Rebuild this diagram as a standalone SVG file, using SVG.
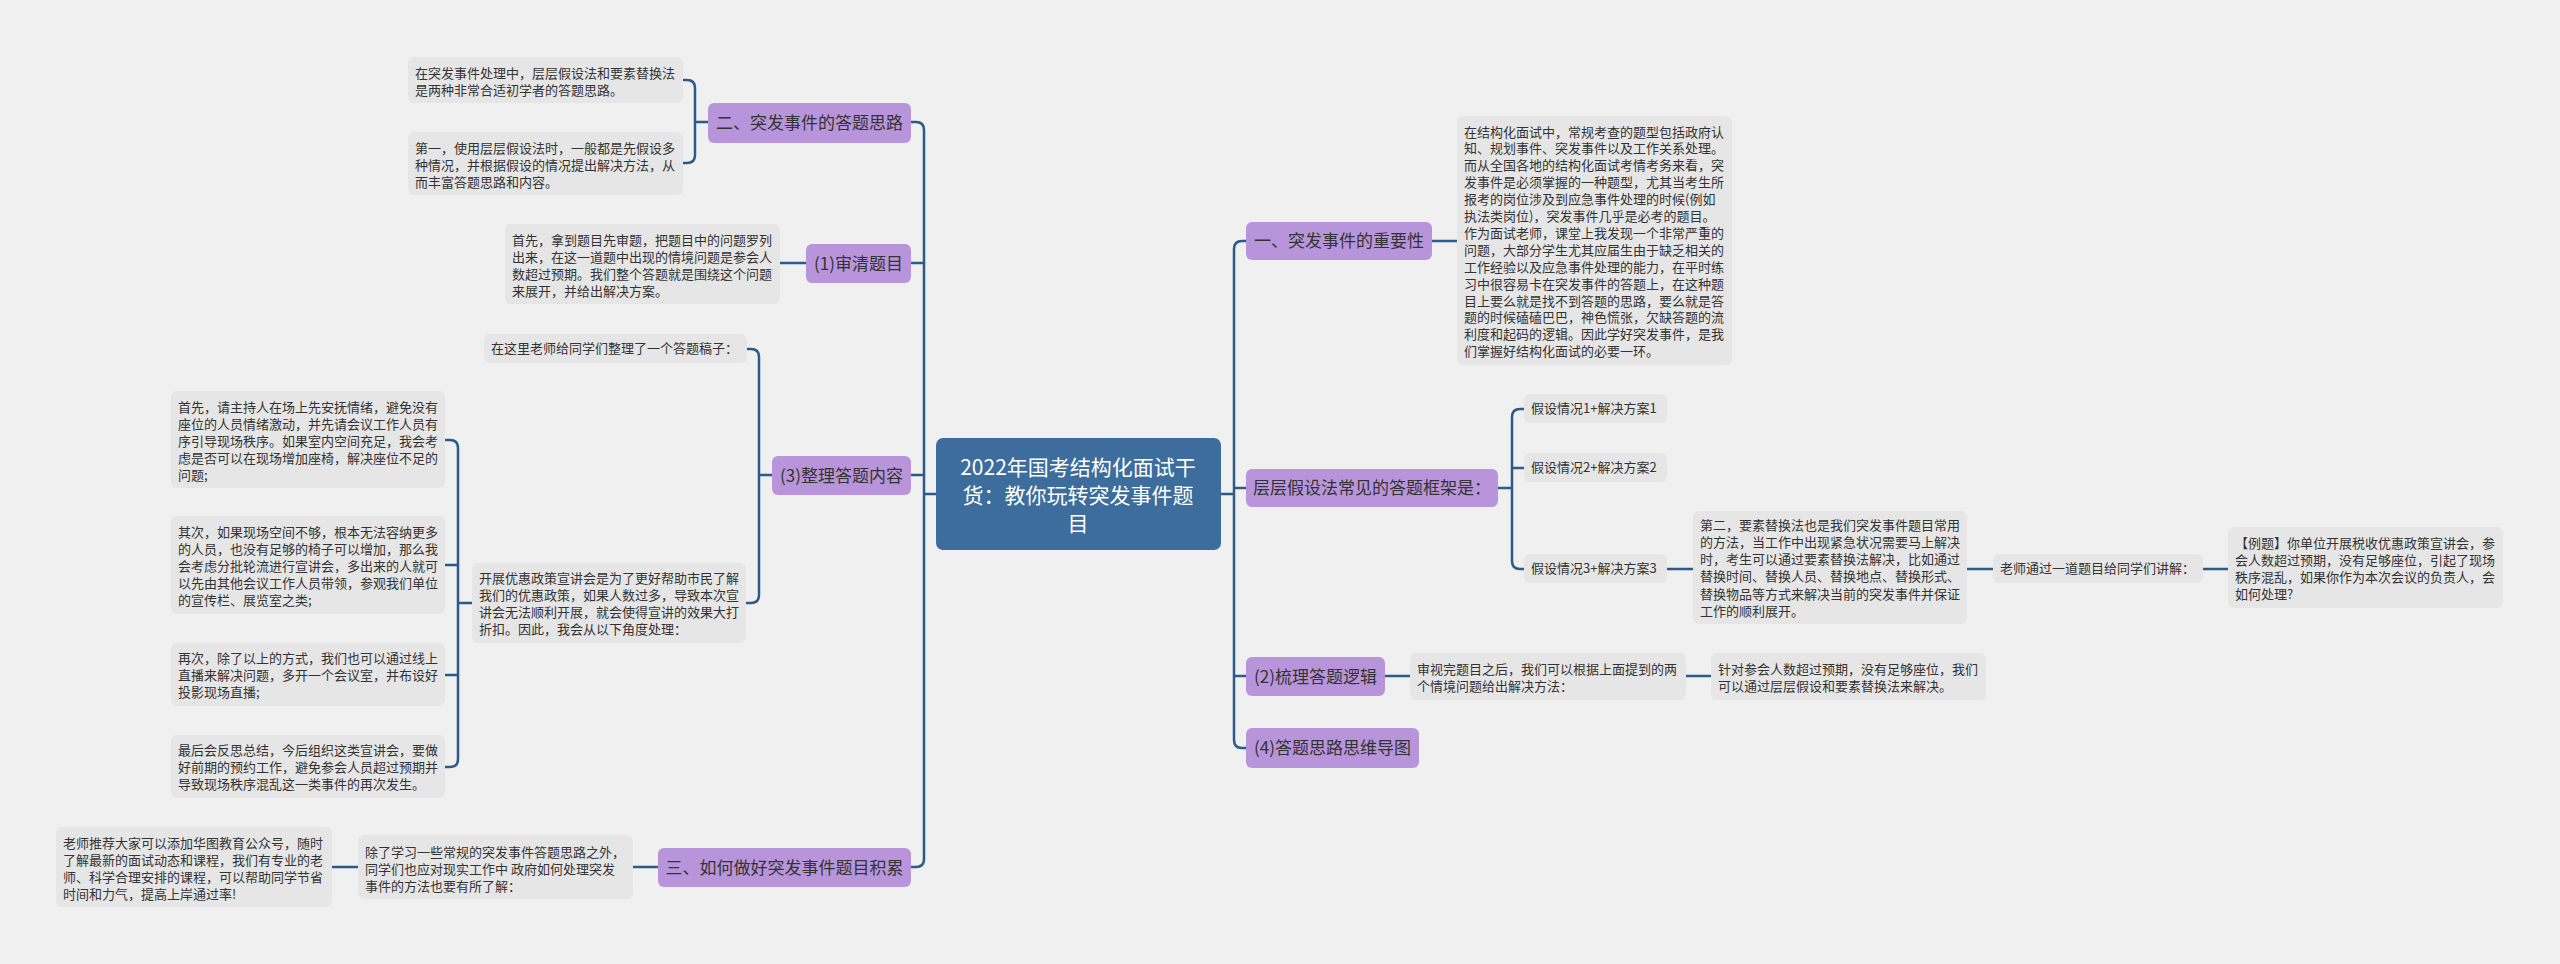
<svg xmlns="http://www.w3.org/2000/svg" width="2560" height="964" viewBox="0 0 2560 964">
<style>
.bg{fill:#f0f0f0}
.leaf{fill:#e6e6e6}
.node{fill:#b895da}
.center{fill:#3c6d9c}
.lt{font-family:"Noto Sans CJK SC","Noto Sans",sans-serif;font-size:13px;fill:#333}
.nt{font-family:"Noto Sans CJK SC","Noto Sans",sans-serif;font-size:17px;fill:#333;text-anchor:middle}
.ct{font-family:"Noto Sans CJK SC","Noto Sans",sans-serif;font-size:21px;fill:#fff;text-anchor:middle}
.conn{stroke:#2a5b8a;stroke-width:2.5;fill:none}
</style>
<rect class="bg" x="0" y="0" width="2560" height="964"/>
<g id="connectors">
<path class="conn" d="M911,122 H916 Q924,122 924,130 V859 Q924,867 916,867 H911 M911,263 H924 M911,475 H924 M924,494 H936"/>
<path class="conn" d="M1246,241 H1242 Q1234,241 1234,249 V740 Q1234,748 1242,748 H1246 M1234,488 H1246 M1234,676 H1246 M1221,494 H1234"/>
<path class="conn" d="M683,80 H687 Q695,80 695,88 V155 Q695,163 687,163 H683 M695,122 H708"/>
<path class="conn" d="M780,263 H806"/>
<path class="conn" d="M747,349 H751 Q759,349 759,357 V595 Q759,603 751,603 H746 M759,475 H772"/>
<path class="conn" d="M445,440 H450 Q458,440 458,448 V759 Q458,767 450,767 H445 M445,565 H458 M445,675 H458 M458,603 H472"/>
<path class="conn" d="M332,867 H358 M633,867 H658"/>
<path class="conn" d="M1432,241 H1457"/>
<path class="conn" d="M1524,409 H1520 Q1512,409 1512,417 V561 Q1512,569 1520,569 H1524 M1512,468 H1524 M1498,488 H1512"/>
<path class="conn" d="M1667,569 H1693 M1967,569 H1993 M2203,569 H2228"/>
<path class="conn" d="M1385,676 H1410 M1686,676 H1711"/>
</g>
<g id="center">
<rect class="center" x="936" y="438" width="285" height="112" rx="7"/>
<text class="ct" x="1078" y="475">2022年国考结构化面试干</text>
<text class="ct" x="1078" y="503">货：教你玩转突发事件题</text>
<text class="ct" x="1078" y="531">目</text>
</g>
<g id="n2">
<rect class="node" x="708" y="103" width="203" height="40" rx="6"/>
<text class="nt" x="809.5" y="129">二、突发事件的答题思路</text>
</g>
<g id="n2a">
<rect class="leaf" x="408" y="57" width="275" height="46" rx="6"/>
<text class="lt" x="415" y="77.5">在突发事件处理中，层层假设法和要素替换法</text>
<text class="lt" x="415" y="94.5">是两种非常合适初学者的答题思路。</text>
</g>
<g id="n2b">
<rect class="leaf" x="408" y="132" width="275" height="63" rx="6"/>
<text class="lt" x="415" y="152.5">第一，使用层层假设法时，一般都是先假设多</text>
<text class="lt" x="415" y="169.5">种情况，并根据假设的情况提出解决方法，从</text>
<text class="lt" x="415" y="186.5">而丰富答题思路和内容。</text>
</g>
<g id="n1s">
<rect class="node" x="806" y="244" width="105" height="39" rx="6"/>
<text class="nt" x="858.5" y="269.5">(1)审清题目</text>
</g>
<g id="n1sa">
<rect class="leaf" x="505" y="224" width="275" height="80" rx="6"/>
<text class="lt" x="512" y="244.5">首先，拿到题目先审题，把题目中的问题罗列</text>
<text class="lt" x="512" y="261.5">出来，在这一道题中出现的情境问题是参会人</text>
<text class="lt" x="512" y="278.5">数超过预期。我们整个答题就是围绕这个问题</text>
<text class="lt" x="512" y="295.5">来展开，并给出解决方案。</text>
</g>
<g id="n3s">
<rect class="node" x="772" y="456" width="139" height="39" rx="6"/>
<text class="nt" x="841.5" y="481.5">(3)整理答题内容</text>
</g>
<g id="n3sa">
<rect class="leaf" x="484" y="334" width="263" height="29" rx="6"/>
<text class="lt" x="491" y="353">在这里老师给同学们整理了一个答题稿子：</text>
</g>
<g id="n3sb">
<rect class="leaf" x="472" y="563" width="274" height="80" rx="6"/>
<text class="lt" x="479" y="582.5">开展优惠政策宣讲会是为了更好帮助市民了解</text>
<text class="lt" x="479" y="599.5">我们的优惠政策，如果人数过多，导致本次宣</text>
<text class="lt" x="479" y="616.5">讲会无法顺利开展，就会使得宣讲的效果大打</text>
<text class="lt" x="479" y="633.5">折扣。因此，我会从以下角度处理：</text>
</g>
<g id="n3sb1">
<rect class="leaf" x="171" y="391" width="274" height="97" rx="6"/>
<text class="lt" x="178" y="411.5">首先，请主持人在场上先安抚情绪，避免没有</text>
<text class="lt" x="178" y="428.5">座位的人员情绪激动，并先请会议工作人员有</text>
<text class="lt" x="178" y="445.5">序引导现场秩序。如果室内空间充足，我会考</text>
<text class="lt" x="178" y="462.5">虑是否可以在现场增加座椅，解决座位不足的</text>
<text class="lt" x="178" y="479.5">问题;</text>
</g>
<g id="n3sb2">
<rect class="leaf" x="171" y="516" width="274" height="98" rx="6"/>
<text class="lt" x="178" y="536.5">其次，如果现场空间不够，根本无法容纳更多</text>
<text class="lt" x="178" y="553.5">的人员，也没有足够的椅子可以增加，那么我</text>
<text class="lt" x="178" y="570.5">会考虑分批轮流进行宣讲会，多出来的人就可</text>
<text class="lt" x="178" y="587.5">以先由其他会议工作人员带领，参观我们单位</text>
<text class="lt" x="178" y="604.5">的宣传栏、展览室之类;</text>
</g>
<g id="n3sb3">
<rect class="leaf" x="171" y="643" width="274" height="63" rx="6"/>
<text class="lt" x="178" y="662.5">再次，除了以上的方式，我们也可以通过线上</text>
<text class="lt" x="178" y="679.5">直播来解决问题，多开一个会议室，并布设好</text>
<text class="lt" x="178" y="696.5">投影现场直播;</text>
</g>
<g id="n3sb4">
<rect class="leaf" x="171" y="735" width="274" height="63" rx="6"/>
<text class="lt" x="178" y="754.5">最后会反思总结，今后组织这类宣讲会，要做</text>
<text class="lt" x="178" y="771.5">好前期的预约工作，避免参会人员超过预期并</text>
<text class="lt" x="178" y="788.5">导致现场秩序混乱这一类事件的再次发生。</text>
</g>
<g id="n3">
<rect class="node" x="658" y="848" width="253" height="39" rx="6"/>
<text class="nt" x="784.5" y="873.5">三、如何做好突发事件题目积累</text>
</g>
<g id="n3a">
<rect class="leaf" x="358" y="835" width="275" height="64" rx="6"/>
<text class="lt" x="365" y="856.5">除了学习一些常规的突发事件答题思路之外，</text>
<text class="lt" x="365" y="873.5">同学们也应对现实工作中 政府如何处理突发</text>
<text class="lt" x="365" y="890.5">事件的方法也要有所了解：</text>
</g>
<g id="n3b">
<rect class="leaf" x="56" y="827" width="276" height="80" rx="6"/>
<text class="lt" x="63" y="847.5">老师推荐大家可以添加华图教育公众号，随时</text>
<text class="lt" x="63" y="864.5">了解最新的面试动态和课程，我们有专业的老</text>
<text class="lt" x="63" y="881.5">师、科学合理安排的课程，可以帮助同学节省</text>
<text class="lt" x="63" y="898.5">时间和力气，提高上岸通过率!</text>
</g>
<g id="n1">
<rect class="node" x="1246" y="222" width="186" height="38" rx="6"/>
<text class="nt" x="1339" y="247">一、突发事件的重要性</text>
</g>
<g id="n1a">
<rect class="leaf" x="1457" y="116" width="275" height="249" rx="6"/>
<text class="lt" x="1464" y="136.5">在结构化面试中，常规考查的题型包括政府认</text>
<text class="lt" x="1464" y="153.4">知、规划事件、突发事件以及工作关系处理。</text>
<text class="lt" x="1464" y="170.3">而从全国各地的结构化面试考情考务来看，突</text>
<text class="lt" x="1464" y="187.2">发事件是必须掌握的一种题型，尤其当考生所</text>
<text class="lt" x="1464" y="204.1">报考的岗位涉及到应急事件处理的时候(例如</text>
<text class="lt" x="1464" y="221">执法类岗位)，突发事件几乎是必考的题目。</text>
<text class="lt" x="1464" y="237.9">作为面试老师，课堂上我发现一个非常严重的</text>
<text class="lt" x="1464" y="254.8">问题，大部分学生尤其应届生由于缺乏相关的</text>
<text class="lt" x="1464" y="271.7">工作经验以及应急事件处理的能力，在平时练</text>
<text class="lt" x="1464" y="288.6">习中很容易卡在突发事件的答题上，在这种题</text>
<text class="lt" x="1464" y="305.5">目上要么就是找不到答题的思路，要么就是答</text>
<text class="lt" x="1464" y="322.4">题的时候磕磕巴巴，神色慌张，欠缺答题的流</text>
<text class="lt" x="1464" y="339.3">利度和起码的逻辑。因此学好突发事件，是我</text>
<text class="lt" x="1464" y="356.2">们掌握好结构化面试的必要一环。</text>
</g>
<g id="nf">
<rect class="node" x="1246" y="469" width="252" height="38" rx="6"/>
<text class="nt" x="1372" y="494">层层假设法常见的答题框架是：</text>
</g>
<g id="nf1">
<rect class="leaf" x="1524" y="394" width="143" height="29" rx="6"/>
<text class="lt" x="1531" y="413">假设情况1+解决方案1</text>
</g>
<g id="nf2">
<rect class="leaf" x="1524" y="453" width="143" height="29" rx="6"/>
<text class="lt" x="1531" y="472">假设情况2+解决方案2</text>
</g>
<g id="nf3">
<rect class="leaf" x="1524" y="554" width="143" height="29" rx="6"/>
<text class="lt" x="1531" y="573">假设情况3+解决方案3</text>
</g>
<g id="nf3a">
<rect class="leaf" x="1693" y="511" width="274" height="113" rx="6"/>
<text class="lt" x="1700" y="529.5">第二，要素替换法也是我们突发事件题目常用</text>
<text class="lt" x="1700" y="546.8">的方法，当工作中出现紧急状况需要马上解决</text>
<text class="lt" x="1700" y="564.1">时，考生可以通过要素替换法解决，比如通过</text>
<text class="lt" x="1700" y="581.4">替换时间、替换人员、替换地点、替换形式、</text>
<text class="lt" x="1700" y="598.7">替换物品等方式来解决当前的突发事件并保证</text>
<text class="lt" x="1700" y="616">工作的顺利展开。</text>
</g>
<g id="nf3b">
<rect class="leaf" x="1993" y="554" width="210" height="29" rx="6"/>
<text class="lt" x="2000" y="573">老师通过一道题目给同学们讲解：</text>
</g>
<g id="nf3c">
<rect class="leaf" x="2228" y="527" width="275" height="81" rx="6"/>
<text class="lt" x="2235" y="547.5">【例题】你单位开展税收优惠政策宣讲会，参</text>
<text class="lt" x="2235" y="564.5">会人数超过预期，没有足够座位，引起了现场</text>
<text class="lt" x="2235" y="581.5">秩序混乱，如果你作为本次会议的负责人，会</text>
<text class="lt" x="2235" y="598.5">如何处理?</text>
</g>
<g id="n2s">
<rect class="node" x="1246" y="657" width="139" height="39" rx="6"/>
<text class="nt" x="1315.5" y="682.5">(2)梳理答题逻辑</text>
</g>
<g id="n2sa">
<rect class="leaf" x="1410" y="653" width="276" height="47" rx="6"/>
<text class="lt" x="1417" y="673.5">审视完题目之后，我们可以根据上面提到的两</text>
<text class="lt" x="1417" y="690.5">个情境问题给出解决方法：</text>
</g>
<g id="n2sb">
<rect class="leaf" x="1711" y="653" width="275" height="47" rx="6"/>
<text class="lt" x="1718" y="673.5">针对参会人数超过预期，没有足够座位，我们</text>
<text class="lt" x="1718" y="690.5">可以通过层层假设和要素替换法来解决。</text>
</g>
<g id="n4s">
<rect class="node" x="1246" y="728" width="173" height="40" rx="6"/>
<text class="nt" x="1332.5" y="754">(4)答题思路思维导图</text>
</g>
</svg>
